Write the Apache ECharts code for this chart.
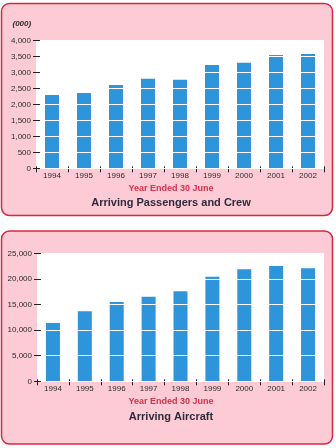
<!DOCTYPE html>
<html>
<head>
<meta charset="utf-8">
<script src="https://cdn.jsdelivr.net/npm/echarts@6/dist/echarts.min.js"></script>
<style>
html,body{margin:0;padding:0;background:#fff;}
#c{width:336px;height:448px;}
</style>
</head>
<body>
<div id="c"></div>
<script>
const years = ['1994','1995','1996','1997','1998','1999','2000','2001','2002'];
const passengers = [2290, 2350, 2600, 2800, 2770, 3230, 3300, 3540, 3570];
const aircraft = [11400, 13700, 15500, 16500, 17600, 20400, 21900, 22500, 22100];
const passengerAxis = {min: 0, max: 4000, interval: 500};
const aircraftAxis = {min: 0, max: 25000, interval: 5000};
const xTitle = 'Year Ended 30 June';
const titles = ['Arriving Passengers and Crew', 'Arriving Aircraft'];
const unitLabel = '(000)';

const FONT = '"Liberation Sans", Arial, sans-serif';
const PINK = '#fdcbd6';
const BORDER = '#d22a3c';
const BAR = '#2e95da';
const TXT = '#2b2b2b';

const chart = echarts.init(document.getElementById('c'), null, {renderer: 'canvas'});

function fmt(v){ return v.toLocaleString('en-US'); }

function yAxisCfg(idx, ax){
  return {
    gridIndex: idx, type: 'value', min: ax.min, max: ax.max, interval: ax.interval,
    offset: -4, z: 3,
    axisLine: {show: false},
    axisTick: {show: true, length: 7, lineStyle: {color: '#222', width: 1}},
    axisLabel: {margin: 9, fontSize: 8, color: TXT, fontFamily: FONT, formatter: fmt},
    splitLine: {show: true, lineStyle: {color: '#fff', width: 1}}
  };
}
function xAxisCfg(idx){
  return {
    gridIndex: idx, type: 'category', data: years, offset: -2,
    axisLine: {show: false},
    axisTick: {show: true, length: 6, lineStyle: {color: '#222', width: 1}},
    axisLabel: {margin: 5, fontSize: 8, color: TXT, fontFamily: FONT, interval: 0}
  };
}

const option = {
  animation: false,
  backgroundColor: '#fff',
  graphic: [
    {type: 'rect', z: -10, shape: {x: 1.5, y: 3.5, width: 331, height: 212, r: 8},
     style: {fill: PINK, stroke: BORDER, lineWidth: 1.5}},
    {type: 'rect', z: -10, shape: {x: 1.5, y: 231, width: 331, height: 213, r: 8},
     style: {fill: PINK, stroke: BORDER, lineWidth: 1.5}},
    {type: 'text', z: 10, x: 12.5, y: 24,
     style: {text: unitLabel, font: 'italic bold 8px ' + FONT, fill: TXT, align: 'left', verticalAlign: 'middle'}},
    {type: 'text', z: 10, x: 171, y: 189,
     style: {text: xTitle, font: 'bold 9px ' + FONT, fill: '#d4314a', align: 'center', verticalAlign: 'middle'}},
    {type: 'text', z: 10, x: 171, y: 203,
     style: {text: titles[0], font: 'bold 11px ' + FONT, fill: '#2c2c3c', align: 'center', verticalAlign: 'middle'}},
    {type: 'text', z: 10, x: 171, y: 402,
     style: {text: xTitle, font: 'bold 9px ' + FONT, fill: '#d4314a', align: 'center', verticalAlign: 'middle'}},
    {type: 'text', z: 10, x: 171, y: 417,
     style: {text: titles[1], font: 'bold 11px ' + FONT, fill: '#2c2c3c', align: 'center', verticalAlign: 'middle'}}
  ],
  grid: [
    {left: 36, top: 40.3, width: 288, height: 128, show: true, backgroundColor: '#fff', borderWidth: 0},
    {left: 37, top: 253.3, width: 287, height: 128, show: true, backgroundColor: '#fff', borderWidth: 0}
  ],
  xAxis: [xAxisCfg(0), xAxisCfg(1)],
  yAxis: [yAxisCfg(0, passengerAxis), yAxisCfg(1, aircraftAxis)],
  series: [
    {type: 'bar', xAxisIndex: 0, yAxisIndex: 0, data: passengers, barWidth: 14,
     itemStyle: {color: BAR}, silent: true},
    {type: 'bar', xAxisIndex: 1, yAxisIndex: 1, data: aircraft, barWidth: 14,
     itemStyle: {color: BAR}, silent: true}
  ]
};
chart.setOption(option);
</script>
</body>
</html>
